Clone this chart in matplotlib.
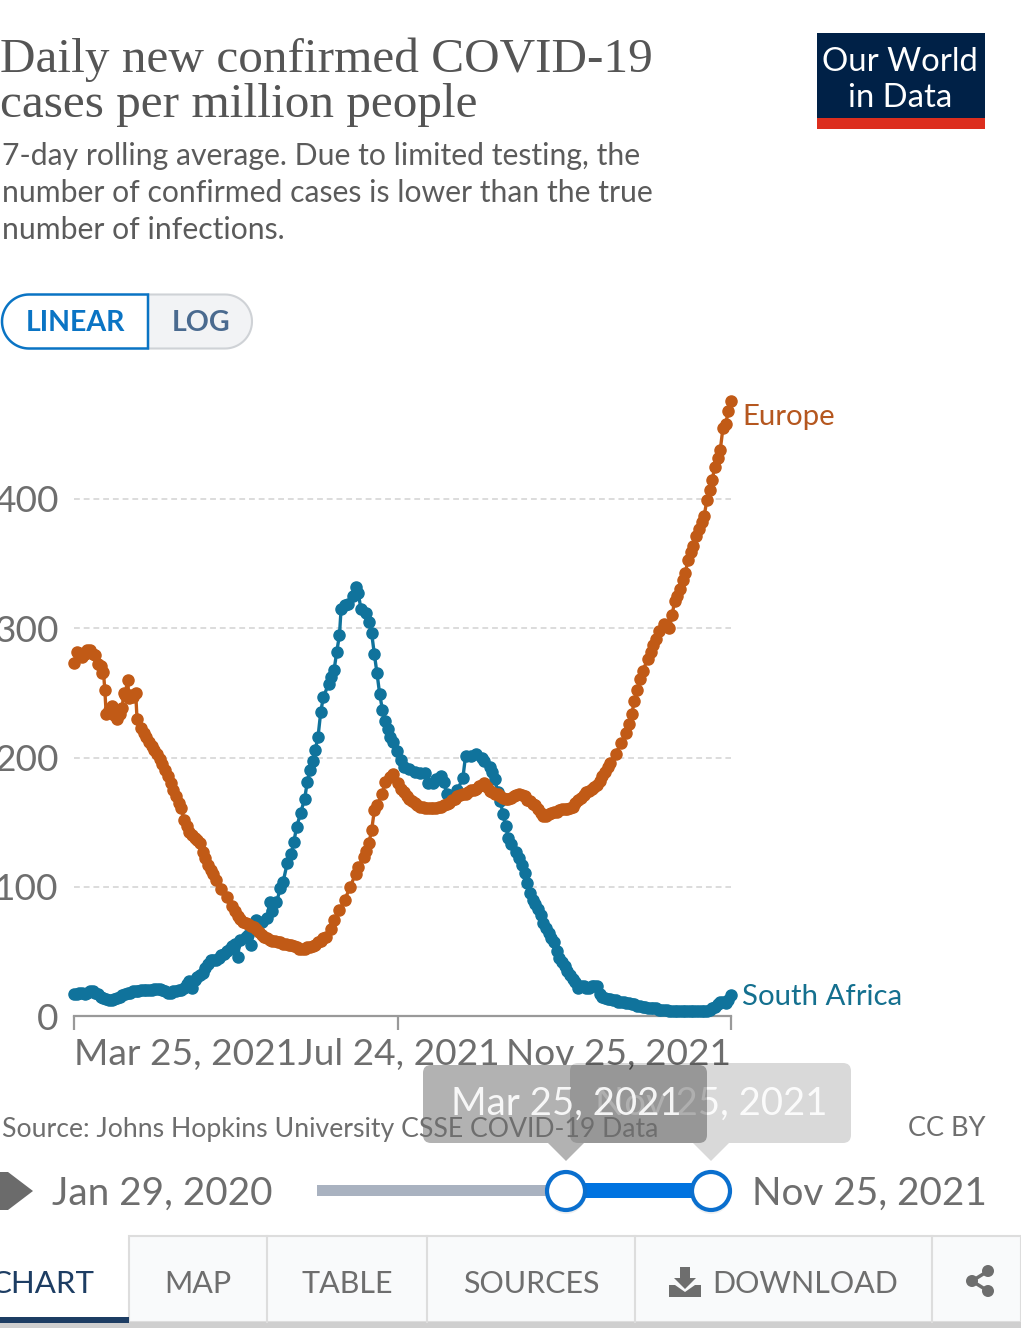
import matplotlib
matplotlib.use("Agg")
import matplotlib.pyplot as plt
import numpy as np
from matplotlib.patches import Rectangle, FancyBboxPatch, Polygon, Circle

plt.rcParams['font.family'] = ['Lato', 'DejaVu Sans']

# days after Mar 25, 2021 and cases per million
europe_days = ([0, 1, 2, 3, 4, 5, 6, 7, 8, 9, 10, 10.5, 11, 11.5, 12, 13, 14, 15, 16, 17, 18, 18.5, 19, 20, 20.5, 21, 22, 23, 23.5]
               + list(range(25, 53))
               + [53, 55, 57, 59] + list(range(60, 95))
               + [96, 97, 99, 101, 103, 105, 106, 108, 109, 110, 111, 112, 113, 115, 116, 118, 119]
               + list(range(121, 201))
               + [202, 204, 206, 207, 208, 209, 210, 211, 212]
               + [214, 215, 216, 217, 218] + list(range(220, 246)))
europe_vals = [273, 282, 281, 278, 280, 283, 283, 280, 279, 272, 271, 265, 266, 252, 234, 237, 240, 233, 230, 234, 238, 250, 248, 260, 246, 248, 247, 250, 230,
               223, 219, 216, 212, 209, 206, 203, 199, 195, 190,
               186, 180, 175, 170, 165, 161, 152, 147, 142, 140,
               138, 136, 134, 127, 122, 117, 113, 110,
               105, 98, 92, 85,
               81, 77, 75, 73, 72, 71, 70, 69, 67, 65, 63, 61, 60, 59, 58, 58, 57, 57, 56, 56, 55, 55, 54, 53, 52, 52, 52, 53, 53, 54, 55, 57, 58, 60, 61,
               67, 74, 82, 90, 100, 110, 115, 123, 128, 134, 144, 159, 163, 172, 181, 185, 187,
               180, 176, 173, 170, 168, 166, 165, 163, 162, 162,
               161, 161, 161, 161, 161, 162, 162, 163, 164, 165,
               167, 168, 170, 171, 172, 172, 173, 175, 175, 176,
               178, 179, 180, 177, 174, 173, 172, 172, 170, 169,
               168, 168, 169, 170, 171, 172, 171, 170, 167, 166,
               164, 163, 160, 157, 155, 155, 156, 157, 158, 158,
               159, 160, 160, 160, 161, 162, 165, 167, 169, 171,
               173, 174, 176, 177, 179, 182, 186, 189, 193, 196,
               203, 211, 219, 226, 234, 244, 252, 261, 267,
               276, 282, 287, 292, 298,
               303, 302, 300, 310, 321, 325, 330, 337, 343, 353, 359, 364, 371, 377, 382, 387, 399, 407, 415, 425, 432, 438, 455, 458, 468, 476]

south_africa_days = (list(range(0, 61))
                     + [61, 62, 64, 65, 66]
                     + [67, 68, 70, 72, 73, 74, 75.5, 77, 78, 79.5, 81, 82, 83, 84.5, 86, 87, 88, 89, 90, 91, 92, 93, 95, 96, 97, 98, 99, 99.6]
                     + [101, 102, 104, 105, 106, 107, 109, 110, 111, 112, 113, 114, 115, 116, 117, 118, 119, 120.5, 122, 123, 125, 127, 129, 131, 132, 134, 135, 137, 138, 139]
                     + [141, 143, 145, 146, 148, 150, 152, 153, 155, 156, 157, 158, 159, 160, 161, 162, 163, 165, 166, 167, 168]
                     + list(range(169, 246)))
south_africa_vals = [17, 17, 18, 18, 17, 18, 19, 19, 18, 17,
                     15, 14, 13, 12, 12, 13, 14, 15, 16, 17,
                     18, 18, 19, 19, 19, 20, 20, 20, 20, 20,
                     21, 21, 21, 20, 19, 18, 18, 19, 19, 20,
                     20, 22, 25, 27, 22, 28, 30, 32, 33, 37,
                     40, 43, 43, 43, 45, 47, 48, 50, 52, 54, 56,
                     46, 59, 61, 63, 55,
                     68, 74, 73, 76, 88, 81, 88, 99, 104, 118, 125, 135, 146, 157, 168, 181, 190, 197, 206, 216, 235, 247, 257, 262, 268, 282, 295, 315,
                     318, 319, 325, 332, 327, 315, 312, 305, 296, 280, 265, 249, 237, 228, 222, 216, 212, 205, 198, 193, 191, 189, 188, 188, 180, 180, 183, 186, 181, 172,
                     170, 175, 184, 201, 201, 203, 200, 197, 193, 189, 183, 173, 166, 156, 147, 138, 133, 127, 122, 117, 111,
                     103, 95, 90, 87, 83, 78, 72, 68, 64, 60,
                     57, 50, 45, 42, 39, 35, 32, 29, 26, 22,
                     23, 23, 22, 22, 23, 23, 23, 17, 15, 14,
                     13, 13, 12, 12, 11, 11, 11, 10, 10, 9,
                     9, 8, 8, 7, 7, 6, 6, 6, 6, 5,
                     5, 5, 5, 4, 4, 4, 4, 4, 4, 4,
                     4, 4, 4, 4, 4, 4, 4, 4, 5, 6,
                     7, 9, 11, 11, 10, 12, 16]

y_ticks = [0, 100, 200, 300, 400]
x_ticks = [0, 121, 245]
x_labels = ["Mar 25, 2021", "Jul 24, 2021", "Nov 25, 2021"]
tabs = ["MAP", "TABLE", "SOURCES"]

EUROPE = "#c15a16"
SOUTH_AFRICA = "#10739c"
GREY = "#6e6e6e"
BLUE = "#0073e0"

W, H = 1021, 1328
fig = plt.figure(figsize=(W / 100, H / 100), dpi=100, facecolor="white")

# chart axes, placed on the pixels of the reference
y_top = 476.0
px_per_unit = 1.2925
ax_h = y_top * px_per_unit
ax = fig.add_axes([74 / W, (H - 1016) / H, 657 / W, ax_h / H])
ax.set_xlim(0, 245)
ax.set_ylim(0, y_top)
ax.patch.set_alpha(0)
for s in ["top", "left", "right"]:
    ax.spines[s].set_visible(False)
ax.spines["bottom"].set_color("#999999")
ax.spines["bottom"].set_linewidth(1.6)

ax.set_yticks(y_ticks)
ax.set_yticklabels([str(t) for t in y_ticks])
ax.tick_params(axis="y", length=0, pad=11, labelsize=26.7, labelcolor=GREY)
ax.yaxis.grid(True, color="#dcdcdc", linestyle=(0, (3, 2)), linewidth=1.4)
ax.set_axisbelow(True)
ax.set_xticks(x_ticks)
ax.set_xticklabels(x_labels)
ax.tick_params(axis="x", length=10, width=1.6, color="#999999", pad=6, labelsize=26.7, labelcolor=GREY)
lbls = ax.get_xticklabels()
lbls[0].set_ha("left")
lbls[2].set_ha("right")

ax.plot(south_africa_days, south_africa_vals, color=SOUTH_AFRICA, lw=2.4, marker="o", ms=8, clip_on=False, zorder=3)
ax.plot(europe_days, europe_vals, color=EUROPE, lw=2.4, marker="o", ms=8, clip_on=False, zorder=4)
ax.annotate("Europe", (245, 476), xytext=(8, -2.5), textcoords="offset points", color="#b5571f", fontsize=21.2, va="top")
ax.annotate("South Africa", (245, 16), xytext=(8, -1), textcoords="offset points", color="#14708f", fontsize=21.2, va="center")

# everything around the chart, in pixel coordinates
ui = fig.add_axes([0, 0, 1, 1], zorder=5)
ui.set_xlim(0, W)
ui.set_ylim(H, 0)
ui.axis("off")
ui.patch.set_alpha(0)

ui.text(0, 60, "Daily new confirmed COVID-19", family="Liberation Serif", fontsize=35.5, color="#555555", va="center")
ui.text(0, 105, "cases per million people", family="Liberation Serif", fontsize=35.5, color="#555555", va="center")
for y, line in zip([156, 193, 230], ["7-day rolling average. Due to limited testing, the",
                                     "number of confirmed cases is lower than the true",
                                     "number of infections."]):
    ui.text(2, y, line, fontsize=21.7, color="#5b5b5b", va="center")

# logo
ui.add_patch(Rectangle((817, 33), 168, 85, color="#002147", lw=0))
ui.add_patch(Rectangle((817, 118), 168, 11, color="#dc2e1e", lw=0))
ui.text(900, 62, "Our World", color="white", fontsize=23.7, ha="center", va="center")
ui.text(900, 98, "in Data", color="white", fontsize=23.7, ha="center", va="center")

# linear / log toggle, two half pills
t = np.linspace(np.pi / 2, 3 * np.pi / 2, 40)
left_x = list(29 + 27 * np.cos(t)) + [148, 148]
left_y = list(321.5 - 27 * np.sin(t)) + [348.5, 294.5]
t2 = np.linspace(-np.pi / 2, np.pi / 2, 40)
right_x = [148] + list(225 + 27 * np.cos(t2)) + [148]
right_y = [348.5] + list(321.5 - 27 * np.sin(t2)) + [294.5]
ui.add_patch(Polygon(np.column_stack([right_x, right_y]), fc="#f2f3f5", ec="#cfd2d6", lw=1.5))
ui.add_patch(Polygon(np.column_stack([left_x, left_y]), fc="white", ec="#0a74c4", lw=1.8))
ui.text(75, 323, "LINEAR", color="#0a74c4", fontsize=20.5, weight="bold", ha="center", va="center")
ui.text(201, 323, "LOG", color="#4a6a8f", fontsize=20.5, weight="bold", ha="center", va="center")

# footer
ui.text(2, 1129, "Source: Johns Hopkins University CSSE COVID-19 Data", fontsize=19.15, color=GREY, va="center")
ui.text(985, 1129, "CC BY", fontsize=19.5, color=GREY, ha="right", va="center")

# slider tooltips, the left one lies over the right one
ui.add_patch(FancyBboxPatch((570, 1063), 281, 80, boxstyle="round,pad=0,rounding_size=8", fc="black", alpha=0.15, lw=0))
ui.add_patch(Polygon([[693, 1143], [729, 1143], [711, 1161]], fc="black", alpha=0.15, lw=0))
ui.text(711, 1104, "Nov 25, 2021", color="white", alpha=0.9, fontsize=27.6, ha="center", va="center", zorder=1.1)
ui.add_patch(FancyBboxPatch((423, 1065), 284, 78, boxstyle="round,pad=0,rounding_size=8", fc="black", alpha=0.3, lw=0, zorder=1.2))
ui.add_patch(Polygon([[548, 1143], [584, 1143], [566, 1161]], fc="black", alpha=0.3, lw=0, zorder=1.2))
ui.text(566, 1104, "Mar 25, 2021", color="white", alpha=0.9, fontsize=27.6, ha="center", va="center", zorder=1.3)

# play button and slider
ui.add_patch(Polygon([[-4, 1172], [8, 1172], [33, 1191], [8, 1210], [-4, 1210]], fc="#6b6b6b", lw=0))
ui.text(52, 1194, "Jan 29, 2020", fontsize=27.9, color=GREY, va="center")
ui.text(987, 1194, "Nov 25, 2021", fontsize=27.9, color=GREY, ha="right", va="center")
ui.add_patch(Rectangle((317, 1185), 249, 11, color="#a9b2c0", lw=0))
ui.add_patch(Rectangle((566, 1183), 145, 15, color=BLUE, lw=0))
for cx in [566, 711]:
    ui.add_patch(Circle((cx, 1194), 20, fc="black", alpha=0.06, lw=0))
    ui.add_patch(Circle((cx, 1191), 19, fc="white", ec="#0a6fce", lw=3))

# tab bar
ui.add_patch(Rectangle((129, 1236), 892, 86, fc="#f9fafb", ec="#dddddd", lw=1.5))
ui.add_patch(Rectangle((0, 1322), W, 6, color="#cfcfcf", lw=0))
ui.add_patch(Rectangle((0, 1317), 129, 6, color="#1d3d63", lw=0))
for x in [267, 427, 635, 932]:
    ui.plot([x, x], [1236, 1322], color="#dddddd", lw=1.5)
ui.text(94, 1284, "CHART", fontsize=22.5, color="#1d3d63", ha="right", va="center")
for cx, tab in zip([198, 347, 531], tabs):
    ui.text(cx, 1284, tab, fontsize=22, color=GREY, ha="center", va="center")
ui.text(712, 1284, "DOWNLOAD", fontsize=22, color=GREY, va="center")

# download and share icons
ui.add_patch(Polygon([[680, 1267], [690, 1267], [690, 1278], [696, 1278], [685, 1289], [674, 1278], [680, 1278]], fc=GREY, lw=0))
ui.add_patch(Polygon([[669, 1285], [675, 1285], [685, 1292], [695, 1285], [701, 1285], [701, 1297], [669, 1297]], fc=GREY, lw=0))
ui.plot([988, 972, 988], [1271, 1281, 1291], color=GREY, lw=2.5)
for cx, cy in [(988, 1271), (972, 1281), (988, 1291)]:
    ui.add_patch(Circle((cx, cy), 6, fc=GREY, lw=0))

fig.savefig("out.png", dpi=100)
